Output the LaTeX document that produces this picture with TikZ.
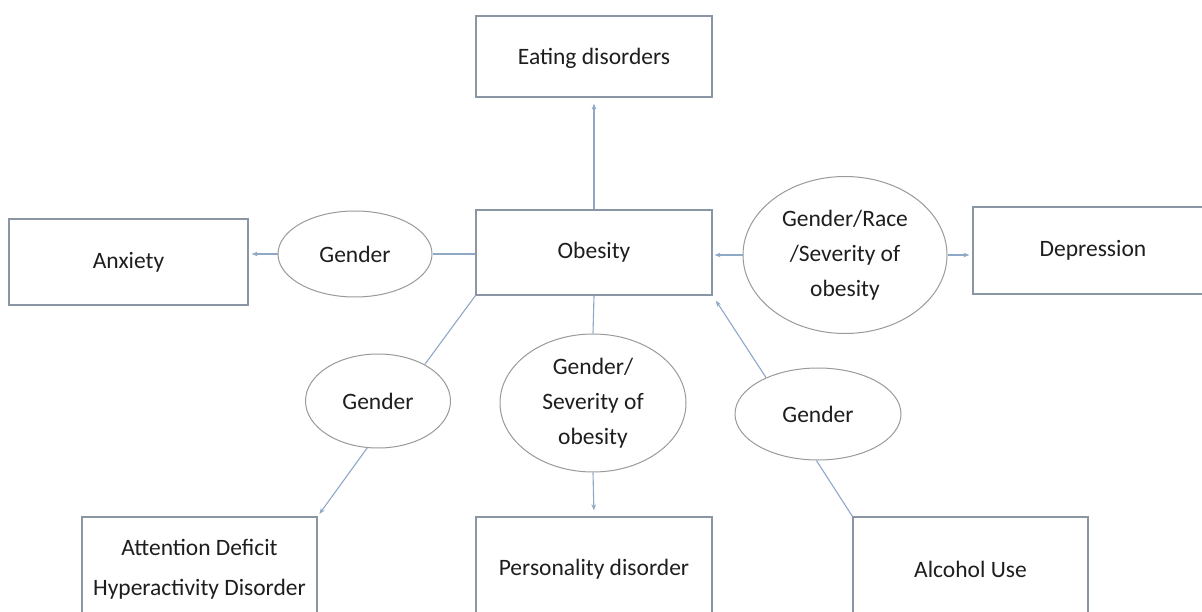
\documentclass[tikz,border=0pt]{standalone}
\usepackage{fontspec}
\setmainfont{Carlito}
\usetikzlibrary{shapes.geometric,arrows.meta}
\definecolor{boxline}{HTML}{8A96A3}
\definecolor{ellline}{HTML}{9A9A9A}
\definecolor{conn}{HTML}{8FA8C6}
\definecolor{txt}{HTML}{1E1E1E}
\tikzset{
  box/.style={draw=boxline, line width=1.2pt, fill=white, rectangle, inner sep=0pt,
    text=txt, font=\fontsize{23.5}{28}\selectfont, align=center},
  ell/.style={draw=ellline, line width=1pt, fill=white, ellipse, inner xsep=0pt, inner ysep=-10pt,
    text=txt, font=\fontsize{23.5}{35}\selectfont, align=center},
  link/.style={draw=conn, line width=1.1pt},
  arr/.style={link, -{Stealth[length=6pt,width=4.5pt]}},
}
\begin{document}
\begin{tikzpicture}[x=1pt,y=-1pt]
\useasboundingbox (0,0) rectangle (1202,612);
\fill[white] (0,0) rectangle (1202,612);
% boxes
\node[box, minimum width=236pt, minimum height=81pt, text depth=-6pt] (eat) at (594,56.5) {Eating disorders};
\node[box, minimum width=236pt, minimum height=85pt] (obes) at (594,252.5) {Obesity};
\node[box, minimum width=239pt, minimum height=86pt] (anx) at (128.5,262) {Anxiety};
\node[box, minimum width=240pt, minimum height=87pt] (dep) at (1093,250.5) {Depression};
\node[box, minimum width=235pt, minimum height=104pt, font=\fontsize{23.5}{40}\selectfont] (adhd) at (199.5,569) {Attention Deficit\\Hyperactivity Disorder};
\node[box, minimum width=236pt, minimum height=104pt] (pers) at (594,569) {Personality disorder};
\node[box, minimum width=235pt, minimum height=104pt] (alc) at (970.5,569) {Alcohol Use};
% ellipses
\node[ell, minimum width=154pt, minimum height=86pt] (gl) at (355,254) {Gender};
\node[ell, minimum width=204pt, minimum height=157pt] (grs) at (845,255) {Gender/Race\\/Severity of\\obesity};
\node[ell, minimum width=145pt, minimum height=94pt] (gll) at (378,401) {Gender};
\node[ell, minimum width=186pt, minimum height=138pt] (gs) at (593,403) {Gender/\\Severity of\\obesity};
\node[ell, minimum width=166pt, minimum height=92pt] (gr) at (818,414) {Gender};
% connectors
\draw[arr, shorten >=6pt] (obes.north) -- (eat.south);
\draw[arr, shorten >=3pt] (gl.west) -- (gl.west -| anx.east);
\draw[link] (gl.east) -- (gl.east -| obes.west);
\draw[arr, shorten >=2pt] (grs.west) -- (grs.west -| obes.east);
\draw[arr, shorten >=3pt] (grs.east) -- (grs.east -| dep.west);
\draw[link] (obes.south west) -- (gll.38);
\draw[arr, shorten >=3pt] (gll.257) -- (adhd.north east);
\draw[link] (obes.south) -- (gs.north);
\draw[arr, shorten >=6pt] (gs.south) -- (pers.north);
\draw[arr, shorten >=6pt] (gr.145) -- (obes.south east);
\draw[link] (gr.268) -- (alc.north west);
\end{tikzpicture}
\end{document}
